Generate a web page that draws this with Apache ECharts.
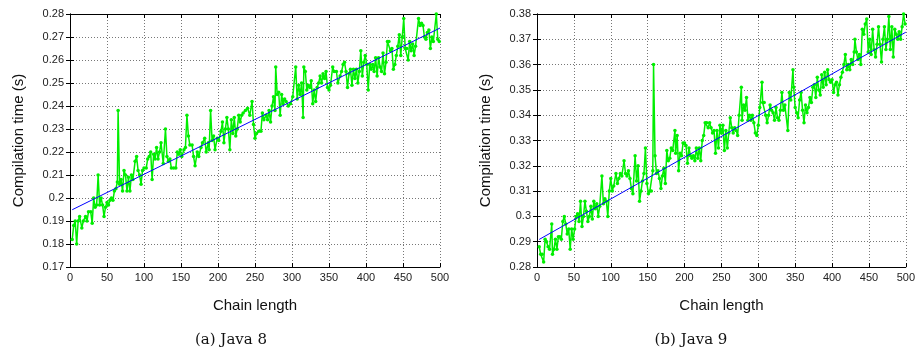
<!DOCTYPE html>
<html><head><meta charset="utf-8">
<script src="https://cdn.jsdelivr.net/npm/echarts@6/dist/echarts.min.js"></script>
<style>html,body{margin:0;padding:0;background:#fff}#c{width:918px;height:358px}</style>
</head><body><div id="c"></div>
<script>
// Java 8 measurements [chain length, seconds]
const java8 = [[3,0.182],[5,0.188],[7,0.190],[9,0.180],[11,0.190],[13,0.192],[16,0.187],[18,0.190],[21,0.192],[23,0.190],[25,0.194],[28,0.194],[30,0.189],[32,0.200],[34,0.196],[36,0.197],[38,0.210],[40,0.197],[42,0.200],[44,0.197],[46,0.192],[48,0.196],[50,0.198],[52,0.197],[54,0.199],[56,0.200],[58,0.199],[60,0.203],[62,0.204],[64,0.207],[65,0.238],[67,0.206],[69,0.208],[71,0.203],[73,0.212],[75,0.210],[77,0.203],[79,0.209],[81,0.203],[83,0.210],[85,0.208],[88,0.216],[90,0.218],[92,0.212],[94,0.210],[96,0.206],[98,0.212],[100,0.213],[103,0.213],[105,0.217],[107,0.218],[109,0.220],[111,0.208],[113,0.219],[115,0.217],[117,0.222],[119,0.217],[121,0.220],[123,0.224],[126,0.215],[129,0.230],[131,0.218],[133,0.216],[135,0.217],[137,0.213],[140,0.213],[143,0.213],[145,0.220],[147,0.219],[149,0.221],[151,0.218],[154,0.221],[156,0.222],[158,0.236],[160,0.227],[162,0.223],[165,0.223],[167,0.218],[169,0.214],[172,0.220],[174,0.218],[177,0.222],[179,0.224],[182,0.226],[184,0.220],[187,0.224],[188,0.221],[190,0.238],[192,0.225],[194,0.227],[196,0.221],[199,0.226],[201,0.225],[204,0.229],[206,0.233],[208,0.224],[210,0.230],[212,0.235],[214,0.230],[216,0.221],[218,0.234],[220,0.228],[222,0.235],[224,0.227],[226,0.230],[228,0.236],[230,0.233],[232,0.236],[234,0.237],[237,0.238],[240,0.239],[243,0.236],[246,0.242],[248,0.232],[250,0.226],[252,0.228],[255,0.229],[258,0.229],[260,0.237],[262,0.234],[265,0.236],[267,0.234],[269,0.238],[271,0.233],[273,0.240],[275,0.244],[277,0.238],[278,0.257],[280,0.245],[282,0.246],[284,0.236],[286,0.245],[288,0.241],[290,0.243],[292,0.242],[295,0.240],[298,0.241],[301,0.244],[305,0.257],[307,0.243],[309,0.249],[311,0.245],[313,0.250],[315,0.235],[316,0.257],[318,0.255],[320,0.247],[322,0.249],[324,0.248],[326,0.251],[328,0.241],[330,0.247],[332,0.242],[334,0.248],[336,0.250],[338,0.253],[340,0.250],[342,0.254],[344,0.252],[346,0.255],[348,0.248],[350,0.247],[352,0.249],[355,0.257],[357,0.255],[360,0.255],[362,0.250],[365,0.253],[367,0.255],[369,0.258],[371,0.259],[373,0.255],[375,0.248],[377,0.254],[379,0.256],[381,0.249],[383,0.256],[385,0.252],[387,0.256],[389,0.250],[391,0.255],[393,0.264],[395,0.253],[397,0.259],[399,0.262],[401,0.258],[403,0.247],[405,0.258],[407,0.256],[409,0.258],[411,0.255],[413,0.261],[415,0.253],[417,0.261],[419,0.257],[421,0.255],[423,0.263],[425,0.254],[427,0.259],[429,0.268],[431,0.268],[433,0.264],[435,0.265],[437,0.256],[439,0.258],[441,0.262],[443,0.266],[445,0.271],[447,0.262],[449,0.270],[451,0.278],[453,0.265],[455,0.265],[457,0.260],[459,0.268],[461,0.264],[463,0.267],[465,0.262],[467,0.266],[471,0.278],[473,0.275],[475,0.276],[477,0.275],[479,0.270],[481,0.269],[483,0.272],[485,0.273],[487,0.265],[489,0.270],[491,0.268],[495,0.280],[497,0.269],[499,0.268]];
// Java 9 measurements [chain length, seconds]
const java9 = [[3,0.288],[5,0.285],[7,0.285],[9,0.282],[11,0.291],[13,0.290],[15,0.288],[17,0.287],[20,0.297],[21,0.285],[23,0.287],[25,0.291],[27,0.287],[29,0.292],[31,0.292],[33,0.291],[35,0.298],[37,0.300],[39,0.297],[41,0.293],[43,0.295],[45,0.287],[47,0.295],[49,0.291],[51,0.295],[53,0.300],[55,0.301],[57,0.298],[59,0.306],[61,0.296],[63,0.300],[65,0.306],[67,0.302],[69,0.298],[71,0.300],[73,0.304],[75,0.299],[77,0.306],[79,0.303],[81,0.305],[83,0.300],[85,0.304],[88,0.316],[90,0.305],[92,0.307],[94,0.306],[96,0.300],[98,0.310],[100,0.315],[102,0.310],[104,0.312],[107,0.317],[109,0.313],[111,0.315],[113,0.317],[115,0.316],[118,0.322],[120,0.317],[122,0.316],[124,0.318],[126,0.315],[128,0.311],[130,0.309],[133,0.324],[135,0.314],[137,0.320],[139,0.306],[141,0.310],[143,0.314],[145,0.317],[147,0.327],[149,0.313],[151,0.309],[153,0.310],[155,0.310],[157,0.318],[158,0.360],[160,0.324],[162,0.317],[164,0.318],[166,0.315],[168,0.311],[170,0.316],[172,0.319],[174,0.313],[176,0.326],[178,0.322],[180,0.323],[182,0.327],[184,0.326],[187,0.334],[188,0.325],[190,0.332],[192,0.318],[194,0.325],[196,0.324],[198,0.329],[200,0.329],[202,0.328],[204,0.321],[206,0.327],[208,0.324],[210,0.323],[212,0.324],[214,0.322],[216,0.327],[218,0.323],[220,0.327],[222,0.322],[224,0.330],[226,0.332],[228,0.337],[230,0.337],[232,0.335],[234,0.337],[236,0.335],[238,0.333],[240,0.334],[242,0.325],[244,0.334],[246,0.327],[248,0.336],[250,0.333],[252,0.336],[254,0.326],[256,0.334],[258,0.327],[260,0.333],[262,0.339],[264,0.335],[266,0.333],[268,0.335],[270,0.334],[272,0.332],[274,0.340],[277,0.351],[278,0.338],[280,0.344],[282,0.342],[284,0.347],[286,0.338],[288,0.340],[290,0.338],[292,0.340],[294,0.337],[296,0.333],[298,0.332],[300,0.336],[302,0.343],[305,0.353],[306,0.345],[308,0.345],[310,0.340],[312,0.337],[314,0.340],[316,0.344],[318,0.342],[320,0.341],[322,0.338],[324,0.343],[326,0.339],[328,0.338],[330,0.342],[332,0.349],[334,0.342],[336,0.344],[340,0.334],[342,0.349],[344,0.346],[347,0.358],[348,0.351],[350,0.343],[352,0.341],[354,0.339],[356,0.346],[358,0.349],[360,0.342],[362,0.337],[364,0.344],[366,0.341],[368,0.343],[370,0.347],[372,0.345],[374,0.351],[376,0.352],[378,0.347],[380,0.355],[382,0.350],[384,0.348],[386,0.356],[388,0.351],[390,0.357],[392,0.352],[394,0.358],[396,0.354],[398,0.353],[400,0.354],[402,0.349],[404,0.352],[406,0.353],[408,0.348],[410,0.352],[412,0.355],[414,0.357],[416,0.360],[418,0.364],[420,0.358],[422,0.360],[424,0.358],[426,0.362],[428,0.360],[430,0.365],[431,0.370],[433,0.365],[435,0.362],[437,0.364],[439,0.360],[441,0.374],[443,0.372],[445,0.376],[447,0.378],[449,0.365],[451,0.370],[453,0.364],[455,0.374],[457,0.366],[459,0.363],[461,0.368],[463,0.375],[465,0.368],[467,0.361],[469,0.370],[471,0.375],[473,0.366],[475,0.370],[477,0.379],[479,0.366],[481,0.375],[483,0.363],[485,0.374],[487,0.372],[489,0.370],[491,0.373],[493,0.370],[495,0.375],[497,0.380],[499,0.376]];
// Linear fits (endpoints)
const fit8 = [[3,0.1949],[500,0.2739]];
const fit9 = [[3,0.2909],[500,0.3728]];
// Axes
const xTicks = [0,50,100,150,200,250,300,350,400,450,500];
const y8Range = [0.17, 0.28];
const y9Range = [0.28, 0.38];
const yStep = 0.01;
const xTitle = 'Chain length';
const yTitle = 'Compilation time (s)';
const captions = ['(a) Java 8', '(b) Java 9'];

const chart = echarts.init(document.getElementById('c'), null, {renderer:'canvas'});
const font = 'Liberation Sans';
const grids = [
  {left:70, right:478, top:14, bottom:91},
  {left:537, right:11, top:14, bottom:91}
];
function xAxes(gi){
  const base = {type:'value', gridIndex:gi, min:xTicks[0], max:xTicks[xTicks.length-1], interval:xTicks[1]-xTicks[0]};
  return [
    Object.assign({}, base, {position:'bottom',
      name:xTitle, nameLocation:'middle', nameGap:31,
      nameTextStyle:{fontFamily:font, fontSize:15, color:'#111'},
      axisLine:{show:true, lineStyle:{color:'#000', width:1}},
      axisTick:{show:true, inside:true, length:4, lineStyle:{color:'#000'}},
      axisLabel:{fontFamily:font, fontSize:11, color:'#222', margin:5},
      splitLine:{show:true, lineStyle:{color:'#777', type:[1,2], width:1}}}),
    Object.assign({}, base, {position:'top',
      axisLine:{show:true, lineStyle:{color:'#000', width:1}},
      axisTick:{show:true, inside:true, length:4, lineStyle:{color:'#000'}},
      axisLabel:{show:false}, splitLine:{show:false}})
  ];
}
function yAxes(gi, r){
  const base = {type:'value', gridIndex:gi, min:r[0], max:r[1], interval:yStep};
  return [
    Object.assign({}, base, {position:'left',
      name:yTitle, nameLocation:'middle', nameGap:44, nameRotate:90,
      nameTextStyle:{fontFamily:font, fontSize:15, color:'#111'},
      axisLine:{show:true, lineStyle:{color:'#000', width:1}},
      axisTick:{show:true, inside:true, length:4, lineStyle:{color:'#000'}},
      axisLabel:{fontFamily:font, fontSize:11, color:'#222', margin:6,
        formatter: v => String(+v.toFixed(2))},
      splitLine:{show:true, lineStyle:{color:'#777', type:[1,2], width:1}}}),
    Object.assign({}, base, {position:'right',
      axisLine:{show:true, lineStyle:{color:'#000', width:1}},
      axisTick:{show:true, inside:true, length:4, lineStyle:{color:'#000'}},
      axisLabel:{show:false}, splitLine:{show:false}})
  ];
}
const dataLine = (xi, yi, d) => ({type:'line', xAxisIndex:xi, yAxisIndex:yi, data:d,
  symbol:'circle', symbolSize:3.5, showSymbol:true,
  lineStyle:{color:'#00ee00', width:1.5}, itemStyle:{color:'#00ee00'}, animation:false, z:2});
const fitLine = (xi, yi, d) => ({type:'line', xAxisIndex:xi, yAxisIndex:yi, data:d,
  symbol:'none', lineStyle:{color:'#0000ff', width:1}, animation:false, z:3});

chart.setOption({
  animation:false,
  grid: grids,
  xAxis: [...xAxes(0), ...xAxes(1)],
  yAxis: [...yAxes(0, y8Range), ...yAxes(1, y9Range)],
  series: [dataLine(0,0,java8), fitLine(0,0,fit8), dataLine(2,2,java9), fitLine(2,2,fit9)],
  graphic: [
    {type:'text', x:231, y:340, style:{text:captions[0], font:'15px "DejaVu Serif"', fill:'#111', textAlign:'center', textVerticalAlign:'middle'}},
    {type:'text', x:691, y:340, style:{text:captions[1], font:'15px "DejaVu Serif"', fill:'#111', textAlign:'center', textVerticalAlign:'middle'}}
  ]
});
</script></body></html>
